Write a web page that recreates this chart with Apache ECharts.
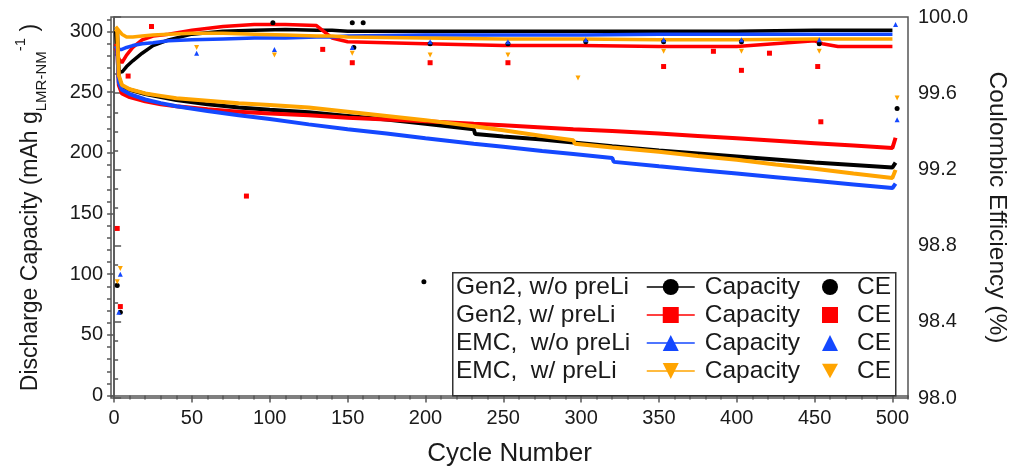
<!DOCTYPE html>
<html>
<head>
<meta charset="utf-8">
<script src="https://cdn.jsdelivr.net/npm/echarts@6/dist/echarts.min.js"></script>
<style>
html, body { margin: 0; padding: 0; background: #fff; }
#chart { width: 1018px; height: 468px; }
</style>
</head>
<body>
<div id="chart"></div>
<script>
// capacity (left axis), read at these cycles
const capCycles = [1, 2, 3, 5, 10, 20, 30, 40, 60, 80, 100, 125, 150, 175, 200, 231, 232, 250, 275, 295, 296, 320, 321, 350, 375, 400, 425, 450, 475, 500, 502];
const capGen2 = [300, 298, 262, 255, 252, 248.5, 246, 243.5, 240, 237.5, 235.5, 233.5, 230.5, 227.5, 224, 219.5, 215.5, 213.5, 211, 208.5, 208.3, 205.5, 205.4, 202, 199.5, 197, 194.5, 192, 190, 188, 192];
const capGen2Li = [290, 287, 256, 249, 246, 242.5, 240, 238.5, 236, 234, 232.5, 231, 229, 227.5, 226, 224, 224, 222.8, 221, 219.5, 219.5, 218, 218, 216, 214, 212, 210, 208, 206, 204, 212.5];
const capEmc = [288, 286, 258, 252, 248.5, 244, 241, 238.5, 234.5, 231, 228, 223.5, 219.5, 216, 212, 207.5, 207.3, 205, 201.5, 199, 198.8, 195.8, 192.6, 189, 186, 183, 180, 177, 174, 171, 174.7];
const capEmcLi = [302, 300, 264, 256, 252.5, 249, 247, 245, 243, 241, 239.5, 237.5, 234, 230.5, 227, 222, 221.8, 218.7, 214, 210.4, 207.5, 204.5, 204.4, 201, 197.5, 194.3, 190.5, 187, 183, 179.4, 186];

// coulombic efficiency main band (right axis)
const ceCycles = [1, 3, 5, 8, 12, 18, 25, 35, 50, 70, 90, 110, 130, 140, 150, 200, 250, 300, 350, 400, 450, 455, 465, 480, 500];
const ceGen2 = [99.93, 99.72, 99.71, 99.74, 99.77, 99.81, 99.85, 99.88, 99.91, 99.925, 99.93, 99.935, 99.93, 99.93, 99.925, 99.925, 99.925, 99.925, 99.925, 99.925, 99.93, 99.93, 99.93, 99.93, 99.93];
const ceGen2Li = [99.84, 99.78, 99.76, 99.80, 99.84, 99.88, 99.90, 99.91, 99.93, 99.95, 99.96, 99.96, 99.955, 99.89, 99.87, 99.86, 99.85, 99.85, 99.845, 99.845, 99.875, 99.86, 99.845, 99.845, 99.845];
const ceEmc = [99.86, 99.83, 99.83, 99.84, 99.85, 99.86, 99.865, 99.875, 99.88, 99.885, 99.89, 99.89, 99.895, 99.895, 99.90, 99.905, 99.905, 99.905, 99.91, 99.91, 99.91, 99.91, 99.91, 99.91, 99.91];
const ceEmcLi = [99.95, 99.93, 99.91, 99.895, 99.895, 99.90, 99.905, 99.91, 99.915, 99.915, 99.91, 99.905, 99.90, 99.90, 99.895, 99.89, 99.885, 99.885, 99.88, 99.88, 99.885, 99.885, 99.885, 99.885, 99.885];

// scattered CE points off the band: [cycle, CE]
const ceGen2Off = [[2, 98.59], [4, 98.45], [102, 99.97], [153, 99.97], [160, 99.97], [154, 99.84], [199, 98.61], [203, 99.86], [253, 99.86], [303, 99.87], [353, 99.87], [403, 99.87], [453, 99.86], [503, 99.52]];
const ceGen2LiOff = [[2, 98.89], [4, 98.48], [9, 99.69], [24, 99.95], [85, 99.06], [134, 99.83], [153, 99.76], [203, 99.76], [253, 99.76], [353, 99.74], [385, 99.82], [403, 99.72], [421, 99.81], [452, 99.74], [454, 99.45]];
const ceEmcOff = [[3, 98.45], [4, 98.65], [53, 99.81], [103, 99.83], [153, 99.84], [203, 99.87], [253, 99.87], [303, 99.88], [353, 99.88], [403, 99.88], [453, 99.88], [502, 99.96], [503, 99.46]];
const ceEmcLiOff = [[2, 98.61], [4, 98.68], [53, 99.84], [103, 99.80], [153, 99.81], [203, 99.80], [253, 99.80], [298, 99.68], [353, 99.82], [403, 99.82], [453, 99.82], [503, 99.575]];

// ticks
const xTicks = [0, 50, 100, 150, 200, 250, 300, 350, 400, 450, 500];
const xMinor = [10, 20, 30, 40, 60, 70, 80, 90, 110, 120, 130, 140, 160, 170, 180, 190, 210, 220, 230, 240, 260, 270, 280, 290, 310, 320, 330, 340, 360, 370, 380, 390, 410, 420, 430, 440, 460, 470, 480, 490, 510];
const yTicks = [0, 50, 100, 150, 200, 250, 300];
const yMinor = [10, 20, 30, 40, 60, 70, 80, 90, 110, 120, 130, 140, 160, 170, 180, 190, 210, 220, 230, 240, 260, 270, 280, 290, 310];

const groups = ['Gen2, w/o preLi', 'Gen2, w/ preLi', 'EMC,  w/o preLi', 'EMC,  w/ preLi'];
const colors = ['#000000', '#ff0000', '#1448ff', '#ffa400'];
const symbols = ['circle', 'rect', 'triangle', 'path://M0,0 L10,0 L5,9 Z'];
const capValues = [capGen2, capGen2Li, capEmc, capEmcLi];
const ceValues = [ceGen2, ceGen2Li, ceEmc, ceEmcLi];
const ceOff = [ceGen2Off, ceGen2LiOff, ceEmcOff, ceEmcLiOff];

const font = 'Liberation Sans, Arial, sans-serif';
const ink = '#1a1a1a';
const axisColor = '#555';

function zip(xs, ys) {
    return xs.map((x, i) => [x, ys[i]]);
}

let series = [];
groups.forEach((g, i) => {
    series.push({
        name: g + ' CE band',
        type: 'line',
        xAxisIndex: 0,
        yAxisIndex: 1,
        data: zip(ceCycles, ceValues[i]),
        showSymbol: false,
        lineStyle: { width: 3.5, color: colors[i] },
        z: 2
    });
});
groups.forEach((g, i) => {
    series.push({
        name: g + ' Capacity',
        type: 'line',
        xAxisIndex: 0,
        yAxisIndex: 0,
        data: zip(capCycles, capValues[i]),
        symbol: symbols[i],
        showSymbol: false,
        itemStyle: { color: colors[i] },
        lineStyle: { width: 4, color: colors[i] },
        z: 3
    });
    series.push({
        name: g + ' CE',
        type: 'scatter',
        xAxisIndex: 0,
        yAxisIndex: 1,
        data: ceOff[i],
        symbol: symbols[i],
        symbolSize: 5,
        itemStyle: { color: colors[i], opacity: 1 },
        z: 3
    });
});

const tickLine = { color: axisColor, width: 1.5 };

const option = {
    animation: false,
    textStyle: { fontFamily: font },
    grid: {
        left: 111, right: 110, top: 17, bottom: 70,
        outerBoundsMode: 'none',
        show: true, borderColor: axisColor, borderWidth: 1.5
    },
    title: {
        text: groups.join('\n'),
        left: 456, top: 273, padding: 0,
        textStyle: { fontFamily: font, fontSize: 24.5, lineHeight: 28, fontWeight: 'normal', color: ink }
    },
    graphic: [{
        type: 'rect', left: 452, top: 272, z: 3,
        shape: { width: 443, height: 123 },
        style: { fill: '#fff', stroke: '#333', lineWidth: 1.5 }
    }],
    legend: [{
        data: groups.map(g => g + ' Capacity'),
        orient: 'vertical', left: 646, top: 273, padding: 0,
        itemWidth: 48, itemHeight: 20, itemGap: 0,
        selectedMode: false,
        lineStyle: { width: 1.5 },
        formatter: () => 'Capacity',
        textStyle: { fontFamily: font, fontSize: 24.5, lineHeight: 28, color: ink, padding: [0, 0, 0, 5] }
    }, {
        data: groups.map(g => g + ' CE'),
        orient: 'vertical', left: 822, top: 273, padding: 0,
        itemWidth: 16, itemHeight: 16, itemGap: 0,
        selectedMode: false,
        itemStyle: { opacity: 1 },
        formatter: () => 'CE',
        textStyle: { fontFamily: font, fontSize: 24.5, lineHeight: 28, color: ink, padding: [0, 0, 0, 14] }
    }],
    xAxis: [{
        type: 'value', min: -2, max: 510, position: 'bottom',
        name: 'Cycle Number', nameLocation: 'middle', nameGap: 43,
        nameTextStyle: { fontFamily: font, fontSize: 26, color: ink },
        axisLine: { show: true, lineStyle: tickLine },
        axisTick: { show: true, inside: false, length: 7, customValues: xTicks, lineStyle: tickLine },
        axisLabel: { customValues: xTicks, fontSize: 20, margin: 10, color: ink, fontFamily: font },
        splitLine: { show: false }
    }, {
        type: 'value', min: -2, max: 510, position: 'bottom',
        axisLine: { show: false },
        axisTick: { show: true, inside: false, length: 4, customValues: xMinor, lineStyle: tickLine },
        axisLabel: { show: false },
        splitLine: { show: false }
    }],
    yAxis: [{
        type: 'value', min: -2, max: 312, position: 'left',
        name: 'Discharge Capacity (mAh g{sub|LMR-NM}{sup|-1}{m| )}',
        nameLocation: 'middle', nameRotate: 90, nameGap: 62,
        nameTextStyle: {
            fontFamily: font, fontSize: 23, color: ink, lineHeight: 36,
            rich: {
                sub: { fontFamily: font, fontSize: 15, color: ink, lineHeight: 20, verticalAlign: 'bottom' },
                sup: { fontFamily: font, fontSize: 15, color: ink, lineHeight: 15, verticalAlign: 'top' },
                m: { fontFamily: font, fontSize: 23, color: ink, lineHeight: 36 }
            }
        },
        axisLine: { show: true, lineStyle: tickLine },
        axisTick: { show: true, inside: false, length: 7, customValues: yTicks, lineStyle: tickLine },
        axisLabel: { customValues: yTicks, fontSize: 20, margin: 8, color: ink, fontFamily: font },
        splitLine: { show: false }
    }, {
        type: 'value', min: 98, max: 100, interval: 0.4, position: 'right',
        name: 'Coulombic Efficiency (%)',
        nameLocation: 'middle', nameRotate: -90, nameGap: 76,
        nameTextStyle: { fontFamily: font, fontSize: 24.5, color: ink },
        axisLine: { show: true, lineStyle: tickLine },
        axisTick: { show: true, inside: false, length: 7, lineStyle: tickLine },
        minorTick: { show: true, splitNumber: 4, length: 4, lineStyle: tickLine },
        axisLabel: { fontSize: 20, margin: 10, color: ink, fontFamily: font, formatter: v => v.toFixed(1) },
        splitLine: { show: false },
        minorSplitLine: { show: false }
    }, {
        type: 'value', min: -2, max: 312, position: 'left',
        axisLine: { show: false },
        axisTick: { show: true, inside: false, length: 4, customValues: yMinor, lineStyle: tickLine },
        axisLabel: { show: false },
        splitLine: { show: false }
    }],
    series: series
};

const chart = echarts.init(document.getElementById('chart'), null, { renderer: 'canvas' });
chart.setOption(option);
</script>
</body>
</html>
